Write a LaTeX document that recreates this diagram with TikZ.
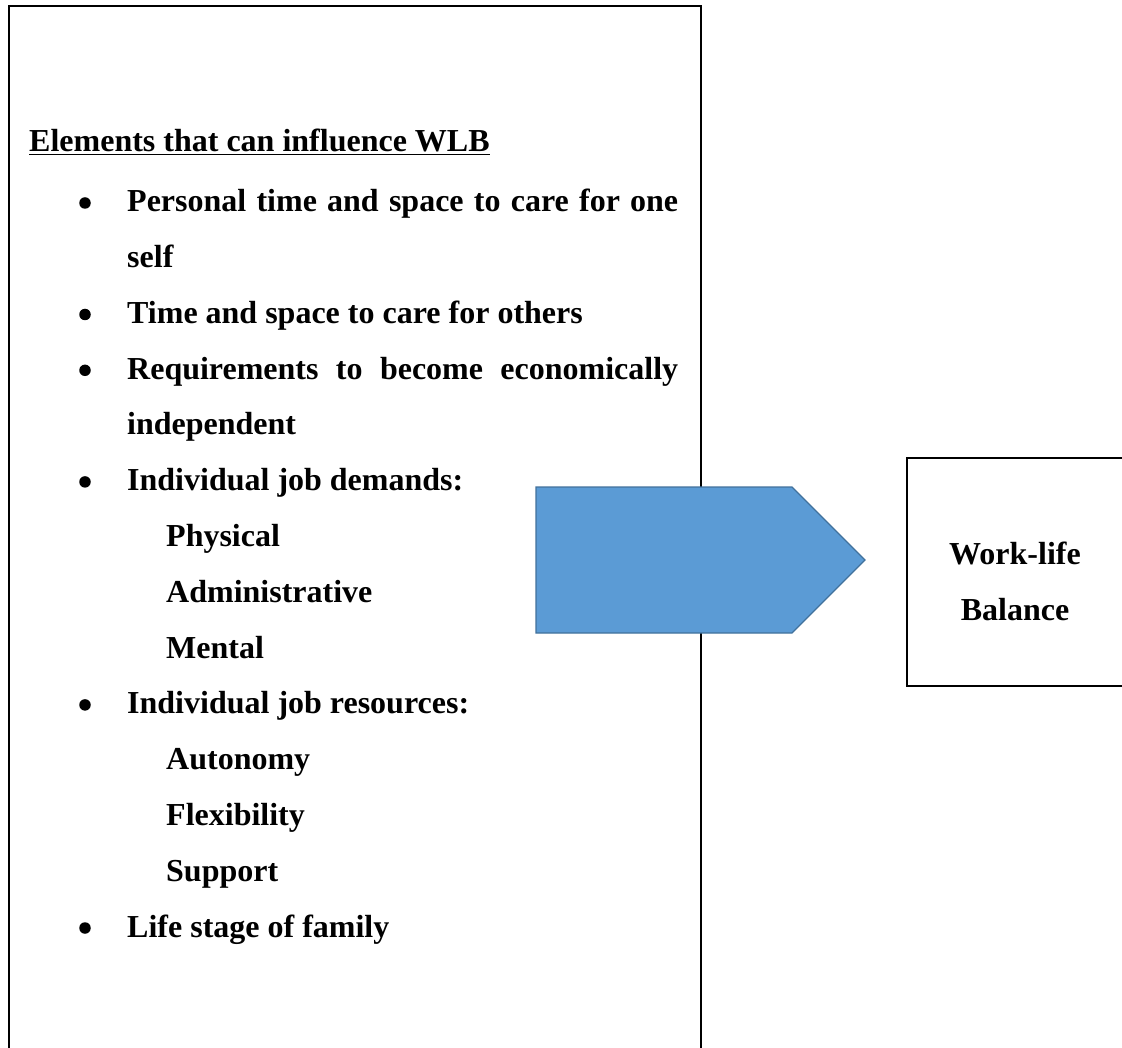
\documentclass[tikz,border=0pt]{standalone}
\usepackage{fontspec}
\setmainfont{Liberation Serif}
\definecolor{arrowfill}{HTML}{5B9BD5}
\definecolor{arrowline}{HTML}{41719C}
\begin{document}
\begin{tikzpicture}[x=1pt,y=-1pt,
  txt/.style={anchor=base west,inner sep=0pt,font=\fontsize{32}{36}\selectfont\bfseries},
  ctxt/.style={anchor=base,inner sep=0pt,font=\fontsize{32}{36}\selectfont\bfseries},
  dot/.style={circle,fill=black,inner sep=0pt,minimum size=11.5pt},
  frame/.style={draw=black,line width=1.5pt},
  bigarrow/.style={fill=arrowfill,draw=arrowline,line width=1.2pt,line join=miter}]
\clip (0,0) rectangle (1122,1048);
\fill[white] (0,0) rectangle (1122,1048);
% boxes
\draw[frame] (9,6) rectangle (701,1070);
\draw[frame] (907,458) rectangle (1140,686);
% left text
\node[txt] (head) at (29,152) {\underline{Elements that can influence WLB}};
\def\bx{85}
\def\tx{127}
\def\sx{166}
\node[dot] (b1) at (\bx,212.0-9) {};
\node[txt] (l1) at (\tx,212.0) {\makebox[551pt][s]{Personal time and space to care for one}};
\node[txt] (l2) at (\tx,267.8) {self};
\node[dot] (b2) at (\bx,323.5-9) {};
\node[txt] (l3) at (\tx,323.5) {Time and space to care for others};
\node[dot] (b3) at (\bx,379.3-9) {};
\node[txt] (l4) at (\tx,379.3) {\makebox[551pt][s]{Requirements to become economically}};
\node[txt] (l5) at (\tx,435.0) {independent};
\node[dot] (b4) at (\bx,490.9-9) {};
\node[txt] (l6) at (\tx,490.9) {Individual job demands:};
\node[txt] (l7) at (\sx,546.6) {Physical};
\node[txt] (l8) at (\sx,602.4) {Administrative};
\node[txt] (l9) at (\sx,658.2) {Mental};
\node[dot] (b5) at (\bx,713.9-9) {};
\node[txt] (l10) at (\tx,713.9) {Individual job resources:};
\node[txt] (l11) at (\sx,769.7) {Autonomy};
\node[txt] (l12) at (\sx,825.5) {Flexibility};
\node[txt] (l13) at (\sx,881.2) {Support};
\node[dot] (b6) at (\bx,937.0-9) {};
\node[txt] (l14) at (\tx,937.0) {Life stage of family};
% arrow shape
\draw[bigarrow] (536,487) -- (792,487) -- (865,560) -- (792,633) -- (536,633) -- cycle;
% right text
\node[ctxt] (w1) at (1015,564) {Work-life};
\node[ctxt] (w2) at (1015,620) {Balance};
\end{tikzpicture}
\end{document}
